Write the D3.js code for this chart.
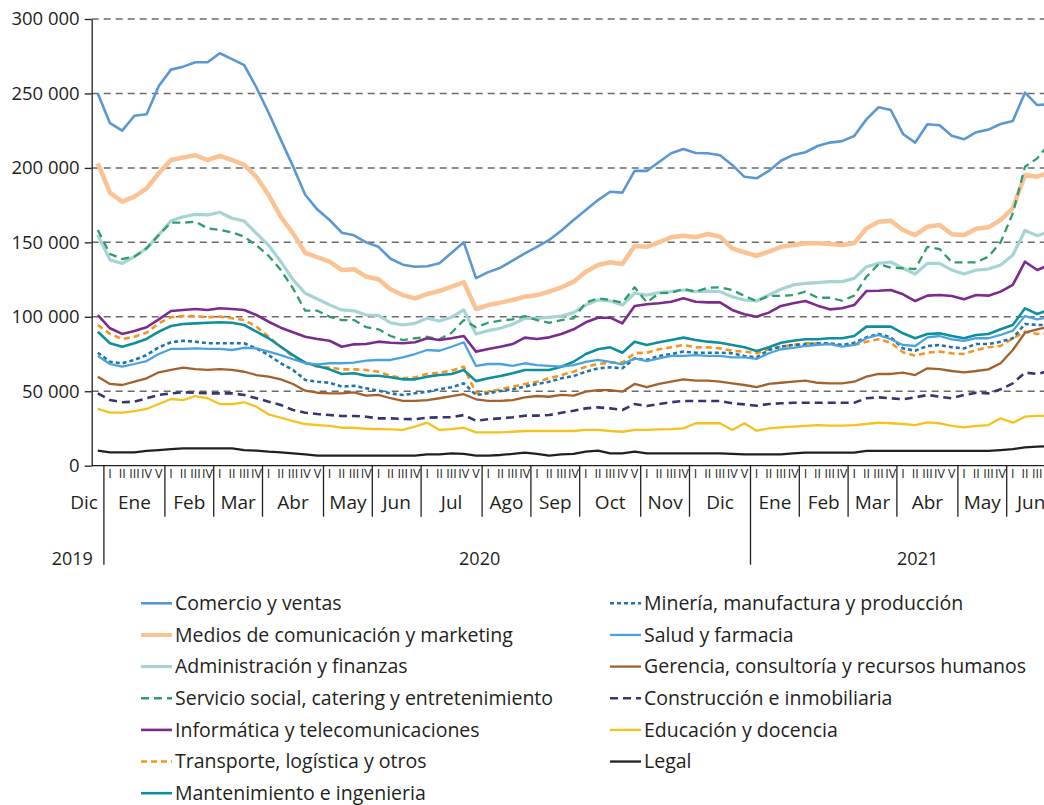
<!DOCTYPE html>
<html>
<head>
<meta charset="utf-8">
<script src="https://cdn.jsdelivr.net/npm/d3@7"></script>
<style>
  body { margin: 0; background: #fff; }
  svg { display: block; font-family: "Open Sans", sans-serif; }
</style>
</head>
<body>
<div class="content"></div>
<script>
// Months on the x axis (first one is only the last week of Dec 2019)
var monthLabels = ["Dic","Ene","Feb","Mar","Abr","May","Jun","Jul","Ago","Sep","Oct","Nov","Dic",
                   "Ene","Feb","Mar","Abr","May","Jun"];
var monthWeeks  = [1,5,4,4,5,4,4,5,4,4,5,4,5,4,4,4,5,4,4];
var yearLabels  = ["2019","2020","2021"];
var weekNumerals = ["I","II","III","IV","V"];
var yTicks = [0, 50000, 100000, 150000, 200000, 250000, 300000];

// Weekly values, thousands
var comercio = [250,230,225,235,236,255,266,268,271,271,277,273,269,254,237,219,201,182,172,165,156.5,154.7,150,147,139,135,133.6,134,136,143,150,126,130,133,137.7,142.6,147,151.6,158,165,171.7,178.4,184,183.4,198,198,204,209.8,212.7,210,209.8,208.5,202,194,193,198,204.8,208.7,210.5,214.7,217,218,221.4,232.6,240.7,238.9,222.8,217,229.3,228.6,221.6,219.2,224,225.7,229.5,231.5,250.5,242.2,242.7];
var medios = [203,183.4,177.3,180.7,186.3,196.4,205.3,207,208.5,205.3,208,205.3,202,194,181.8,167.2,156,143,140,137,131.4,131.9,127,125.2,118.5,114.6,112.4,115.3,117.3,120.2,123.2,105.2,107.9,109.5,111.3,113.5,114.6,116.9,119.8,123.6,130.3,134.8,136.6,135.5,147.5,147,150,153.4,154.5,153.4,155.6,153.8,146,143.3,141,143.7,147,148.2,149.4,149.4,148.9,148.2,149.4,159.4,163.9,164.5,158.3,154.9,160.5,161.7,155.4,154.9,159.2,160.1,165,172.9,195.2,194.1,196.8];
var administracion = [155,138.2,135.9,140.4,146,155,164.5,167.2,168.8,168.4,170.2,166.2,164.3,156,148,137,125,115.8,112,108,104.6,104,101.2,101,96,94.5,95.6,99,97.2,99.7,104.6,88.5,90.7,92.3,95,99,99,99.7,100.5,102.8,107.9,111.3,110.6,107.9,115.8,114.6,116.2,116.9,118,116.9,117.3,116.9,113.5,111.3,110.6,114.6,118.5,121.4,122.5,122.9,123.6,123.6,125.8,133.6,135.9,136.8,132.6,128.7,135.9,135.9,131.4,128.7,131.4,132.1,134.8,141.5,158,154.5,157.2];
var servicio = [158.3,142.2,138.8,140.4,146,155,163.2,163.2,163.9,159.4,158.3,156.7,153.8,148,141,131.4,119.1,104.1,104.1,100,97.8,97.8,93,91.6,87.1,84.4,85.6,86.6,84.9,89.3,97.8,93,96,97.4,98.3,100.5,97.8,96,97.8,99,109.5,112.4,111.3,109.5,119.8,109.7,115.8,116.2,118.7,116.9,119.5,119.8,118,114,110.6,114,114,114.6,116.9,112.8,112.8,110.8,114.2,126.9,135.3,133,132.6,132.1,147,145.5,136.6,136.6,136.6,140.4,150,169.5,200.8,206.4,216.5];
var informatica = [101.2,92.3,88.5,90.5,93,98.3,103.9,104.6,105.2,104.6,105.7,105.2,104.6,101.2,96.7,92.7,89.6,86.6,85.1,83.9,79.9,81.5,81.7,83.3,82.6,82.2,82.9,85.6,84.4,85.6,87.1,76.6,78.4,79.9,81.7,86,85.1,86.2,88.5,91.6,96.3,99.4,99.4,95.6,107.3,108.4,109.1,110.1,112.4,110.1,109.7,109.7,104.6,101.7,100.1,102.8,107.3,109.1,110.6,107.5,105,105.7,107.9,117.3,117.5,118,115.1,110.6,114.2,114.6,114,111.8,114.6,114.2,116.9,121.4,137,131.4,134.8];
var transporte = [94.5,88.5,85.1,86.6,89.3,95.6,99.7,100.5,100.5,99.7,100.1,99,97.8,93.4,86.6,79.9,73.2,69.2,66.5,66.1,64.7,64.7,64.3,63.1,60.4,58.7,59.4,61.6,62.5,63.8,66.5,48.6,49.7,51.3,53.1,54.9,56.4,58.7,60.9,63.1,66.5,68.3,69.2,69.2,75.5,75.9,78.2,79.5,81.1,79.5,79.5,78.8,77.2,76.6,75.5,78.2,79.9,81.1,82.2,82.2,81.7,80.4,81.1,83.3,84.9,82.6,76.2,73.9,75.9,76.6,75.5,75,77.7,79.5,80.4,85.6,90,88.5,88.9];
var mantenimiento = [90,82.2,79.9,82.2,85.1,90,93.8,95.2,95.6,96,96.3,96,94.5,90,85.6,79.9,74.3,69.2,67,64.7,61.6,62.1,60.4,60.4,59.4,58,58,59.8,60.9,61.6,64.3,56.8,58.7,60.2,62.1,64.3,64.3,64.3,66.5,69.8,75,78.2,79.5,75.9,83.3,81.1,82.9,84.4,86,84.4,83.3,82.6,81.1,79.5,77,79.5,82.6,83.9,84.9,84.9,85.6,85.6,87.1,93.4,93.4,93.4,88.9,85.6,88.5,88.9,87.1,85.6,87.8,88.5,91.6,94.5,105.7,101.9,104.6];
var mineria = [75.9,69.8,68.8,71,74.3,79.5,82.9,83.9,83.3,82.2,82.2,82.2,82.2,78.8,74.3,68.8,64.3,57.6,56.4,55.7,53.1,53.7,52,50.4,48.6,47.5,48.6,49.7,51.3,52.7,55.3,47.5,48.6,50.2,51.3,53.1,54.9,56.4,58.7,60.2,63.1,65.4,66.1,65.4,72.1,71,73.7,75,76.6,75.9,75.9,75.9,75.5,73.7,72.8,77.7,79.9,81.1,81.5,82.2,82.2,81.1,82.6,86.2,88.5,86.2,78.8,77.2,80.4,81.1,79.5,78.8,81.7,81.7,83.3,85.6,95.2,94.5,94.5];
var salud = [73.7,68.3,66.5,68.3,70.3,75,78.4,78.4,78.8,78.4,78.4,77.7,79.2,78.8,76.6,74.3,71.5,68.8,68.1,68.8,68.8,69.2,70.5,71,71,72.8,75,77.7,77.2,79.9,82.9,67,68.3,68.3,67,68.8,67.6,67,66.5,67.6,69.8,71,69.8,68.1,72.1,70.3,72.1,73.7,73.7,74.3,73.7,73.7,72.8,72.8,71.7,75.5,78.2,79.2,80.4,81.1,81.7,79.9,81.1,85.6,87.8,84.9,81.1,80.4,86.2,87.1,84.9,83.9,85.6,85.6,87.8,90.7,100.5,98.3,99.7];
var gerencia = [59.8,54.9,54.2,56.4,58.7,62.7,64.3,65.8,64.9,64.3,64.9,64.3,63.1,60.9,59.8,58,54.9,50.4,49,48.6,48.6,49.3,47,47.5,45.3,43.5,43.5,44.1,45.3,46.8,48,44.6,43.5,43.5,44.1,45.9,46.8,46.3,47.5,47,49.7,50.8,50.8,49.7,54.9,52.7,54.9,56.4,58,57.1,57.1,56.4,55.3,54.2,52.7,54.9,55.7,56.4,57.1,55.7,55.3,55.3,56.4,59.8,61.6,61.6,62.5,60.9,65.4,64.9,63.6,62.7,63.6,64.7,68.8,77.7,89.3,91.6,93.4];
var construccion = [48.6,44.1,42.6,43,45.3,47.5,48.6,49.3,49,48.6,48.6,48.6,47.5,45.3,43,40.8,37.4,35.6,34.7,34,33.4,33.4,32.9,31.8,31.8,31.4,31.2,32.2,32.5,32.5,34,30.2,31.2,31.8,32.5,33.6,33.6,34,35.6,36.9,38.5,39.2,38.5,37.4,41.4,40.1,41.4,42.6,43.5,43.5,43.5,43.5,41.9,41.2,40.3,41.4,41.9,42.3,42.3,42.3,42.3,42.3,42.3,45.3,45.9,45.3,44.6,45.9,47.5,46.3,45.3,47.5,49,48.6,51.3,55.3,62.5,61.6,63.8];
var educacion = [38.1,35.6,35.6,36.7,38.1,41.4,44.8,44.1,46.8,45.3,41.4,41.4,42.6,39.6,34.5,32.2,30,28,27.3,26.7,25.5,25.5,24.8,24.6,24.4,24,26.2,28.9,24,24.6,25.5,22.4,22.4,22.4,22.8,23.3,23.3,23.3,23.3,23.3,24,24,23.3,22.8,24,24,24.4,24.6,25.1,28.5,28.5,28.5,24,28.5,23.5,25.1,25.8,26.2,26.7,27.3,26.9,26.9,27.3,28,28.9,28.5,28,27.3,29.1,28.5,26.7,25.8,26.7,27.3,31.8,28.9,32.9,33.4,33.6];
var legal = [10.1,9,9,9,9.9,10.5,11.2,11.7,11.7,11.7,11.7,11.7,10.5,10.1,9.4,9,8.3,7.6,6.7,6.7,6.7,6.7,6.7,6.7,6.7,6.7,6.7,7.6,7.6,8.3,7.9,6.7,6.7,7.2,7.9,8.8,7.9,6.7,7.6,7.9,9.4,10.1,8.3,8.3,9.4,8.3,8.3,8.3,8.3,8.3,8.3,8.3,7.9,7.6,7.6,7.6,7.6,8.3,8.8,8.8,8.8,8.8,8.8,9.9,9.9,9.9,9.9,9.9,9.9,9.9,9.9,9.9,9.9,9.9,10.5,11.2,12.3,12.8,13.2];

var seriesNames = [
  "Comercio y ventas",
  "Medios de comunicación y marketing",
  "Administración y finanzas",
  "Servicio social, catering y entretenimiento",
  "Informática y telecomunicaciones",
  "Transporte, logística y otros",
  "Mantenimiento e ingenieria",
  "Minería, manufactura y producción",
  "Salud y farmacia",
  "Gerencia, consultoría y recursos humanos",
  "Construcción e inmobiliaria",
  "Educación y docencia",
  "Legal"
];
var seriesValues = [comercio, medios, administracion, servicio, informatica, transporte, mantenimiento,
                    mineria, salud, gerencia, construccion, educacion, legal];

// line styles per series
var seriesStyle = {
  "Comercio y ventas": {color: "#5b97d3", width: 2.6, dash: null},
  "Medios de comunicación y marketing": {color: "#fbc393", width: 4.5, dash: null},
  "Administración y finanzas": {color: "#a6d4d4", width: 3.2, dash: null},
  "Servicio social, catering y entretenimiento": {color: "#2f9c6c", width: 2.3, dash: "8,5"},
  "Informática y telecomunicaciones": {color: "#7d2a8e", width: 2.6, dash: null},
  "Transporte, logística y otros": {color: "#f7941d", width: 2.6, dash: "6,4"},
  "Mantenimiento e ingenieria": {color: "#0e8f9e", width: 2.6, dash: null},
  "Minería, manufactura y producción": {color: "#1f74ae", width: 2.6, dash: "4,3"},
  "Salud y farmacia": {color: "#4aa3dc", width: 2.3, dash: null},
  "Gerencia, consultoría y recursos humanos": {color: "#a3622c", width: 2.3, dash: null},
  "Construcción e inmobiliaria": {color: "#363570", width: 2.6, dash: "8,5"},
  "Educación y docencia": {color: "#f6c21c", width: 2.3, dash: null},
  "Legal": {color: "#231f20", width: 2.3, dash: null}
};

var textColor = "#231f20";
var nWeeks = d3.sum(monthWeeks);
var weekW = 12.2;

var margin = {top: 19, left: 91.7},
    totalWidth = 1044, totalHeight = 805,
    width = nWeeks * weekW,
    height = 446.7;

var svg = d3.select(".content").append("svg")
    .attr("width", totalWidth)
    .attr("height", totalHeight)
  .append("g")
    .attr("transform", "translate(" + margin.left + "," + margin.top + ")");

var x = d3.scaleLinear().domain([0, nWeeks]).range([0, width]);
var y = d3.scaleLinear().domain([0, 300000]).range([height, 0]);

// dashed grid lines
svg.append("g")
  .selectAll("line")
  .data(yTicks.filter(function(d) { return d > 0; }))
  .enter().append("line")
    .attr("x1", 0)
    .attr("x2", totalWidth)
    .attr("y1", function(d) { return y(d); })
    .attr("y2", function(d) { return y(d); })
    .style("stroke", "#6b6b6b")
    .style("stroke-width", 1.5)
    .style("stroke-dasharray", "7,5");

// Y axis
var yAxis = svg.append("g")
  .call(d3.axisLeft(y)
    .tickValues(yTicks)
    .tickSize(7)
    .tickSizeOuter(0)
    .tickPadding(5)
    .tickFormat(function(d) { return d3.format(",")(d).replace(/,/g, " "); }));
yAxis.selectAll("path, line").style("stroke", textColor).style("stroke-width", 1.3);
yAxis.selectAll("text")
  .style("font-family", "'Open Sans', sans-serif")
  .style("font-size", "18.5px")
  .style("fill", textColor);

// lines
var line = d3.line()
  .x(function(d, i) { return x(i + 0.5); })
  .y(function(d) { return y(d * 1000); });

svg.append("g")
  .selectAll("path")
  .data(seriesNames)
  .enter().append("path")
    .attr("d", function(d, i) { return line(seriesValues[i]); })
    .style("fill", "none")
    .style("stroke", function(d) { return seriesStyle[d].color; })
    .style("stroke-width", function(d) { return seriesStyle[d].width; })
    .style("stroke-dasharray", function(d) { return seriesStyle[d].dash; })
    .style("stroke-linejoin", "round");

// X axis: baseline, weeks, months, years
var xAxis = svg.append("g").attr("transform", "translate(0," + height + ")");
xAxis.append("line")
  .attr("x1", 0).attr("x2", totalWidth)
  .style("stroke", textColor).style("stroke-width", 1.3);

var months = [];
var start = 0;
monthLabels.forEach(function(m, i) {
  months.push({label: m, start: start, weeks: monthWeeks[i], idx: i});
  start += monthWeeks[i];
});

// separators; year changes get longer lines
xAxis.selectAll(".sep")
  .data(months.slice(1))
  .enter().append("line")
    .attr("x1", function(d) { return x(d.start); })
    .attr("x2", function(d) { return x(d.start); })
    .attr("y1", 0)
    .attr("y2", function(d) { return d.label == "Ene" ? 99 : 51; })
    .style("stroke", textColor)
    .style("stroke-width", 1.3);

// roman week numerals (skip partial first month, and any falling off the page)
var weeks = [];
months.slice(1).forEach(function(m) {
  for (var k = 0; k < m.weeks; k++) weeks.push({w: m.start + k, label: weekNumerals[k]});
});
weeks = weeks.filter(function(d) { return margin.left + x(d.w + 0.5) + 5 < totalWidth; });
xAxis.selectAll(".wk")
  .data(weeks)
  .enter().append("text")
    .attr("x", function(d) { return x(d.w + 0.5); })
    .attr("y", 9)
    .attr("text-anchor", "middle")
    .attr("dominant-baseline", "middle")
    .style("font-size", "12.5px")
    .style("fill", textColor)
    .text(function(d) { return d.label; });

xAxis.selectAll(".mo")
  .data(months)
  .enter().append("text")
    .attr("x", function(d) { return d.idx == 0 ? x(d.start + d.weeks) - 6 : x(d.start + d.weeks / 2); })
    .attr("y", 38)
    .attr("text-anchor", function(d) { return d.idx == 0 ? "end" : "middle"; })
    .attr("dominant-baseline", "middle")
    .style("font-size", "19px")
    .style("fill", textColor)
    .text(function(d) { return d.label; });

// year labels
var yearAt = [{x: x(1) - 11, anchor: "end"}, {x: x(31.8), anchor: "middle"}, {x: x(67.7), anchor: "middle"}];
xAxis.selectAll(".yr")
  .data(yearLabels)
  .enter().append("text")
    .attr("x", function(d, i) { return yearAt[i].x; })
    .attr("y", 94)
    .attr("text-anchor", function(d, i) { return yearAt[i].anchor; })
    .attr("dominant-baseline", "middle")
    .style("font-size", "18px")
    .style("fill", textColor)
    .text(function(d) { return d; });

// legend, two columns
var legend = d3.select("svg").append("g");
var legendItems = legend.selectAll("g")
  .data(seriesNames)
  .enter().append("g")
    .attr("transform", function(d, i) {
      var col = i < 7 ? 0 : 1, row = i < 7 ? i : i - 7;
      return "translate(" + (col ? 610 : 141) + "," + (603.3 + row * 31.65) + ")";
    });
legendItems.append("line")
  .attr("x1", 0).attr("x2", 31)
  .style("stroke", function(d) { return seriesStyle[d].color; })
  .style("stroke-width", function(d) { return Math.min(seriesStyle[d].width, 4); })
  .style("stroke-dasharray", function(d) { return seriesStyle[d].dash; });
legendItems.append("text")
  .attr("x", 34)
  .attr("y", 1.5)
  .attr("dominant-baseline", "middle")
  .style("font-size", "19.5px")
  .style("fill", textColor)
  .text(function(d) { return d; });
</script>
</body>
</html>
